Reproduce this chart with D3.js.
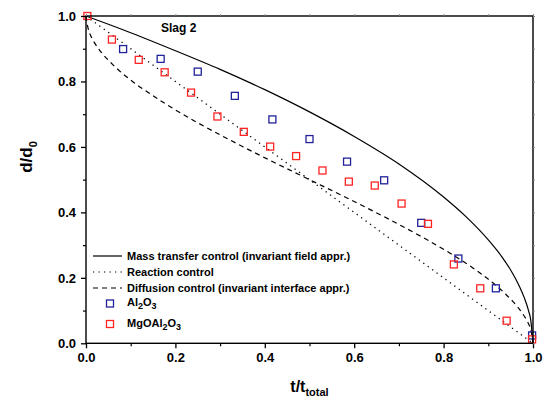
<!DOCTYPE html>
<html><head><meta charset="utf-8">
<script src="https://cdn.jsdelivr.net/npm/d3@7/dist/d3.min.js"></script>
<style>
body{margin:0;background:#fff;}
svg{display:block;font-family:"Liberation Sans",Arial,sans-serif;}
</style></head>
<body>
<svg id="c" width="545" height="403"></svg>
<script>
// ---- data ----
const al2o3T = [0.083,0.167,0.250,0.333,0.417,0.500,0.584,0.667,0.750,0.833,0.917,0.998];
const al2o3D = [0.899,0.869,0.830,0.756,0.684,0.624,0.555,0.498,0.368,0.259,0.168,0.024];
const mgoT = [0.003,0.058,0.118,0.176,0.235,0.294,0.353,0.412,0.470,0.529,0.588,0.646,0.706,0.765,0.823,0.882,0.941,0.998];
const mgoD = [1.000,0.928,0.866,0.828,0.766,0.693,0.646,0.601,0.572,0.528,0.494,0.482,0.427,0.365,0.241,0.168,0.069,0.012];
// model curves
const massT = [0,0.1,0.2,0.3,0.4,0.5,0.6,0.7,0.8,0.85,0.9,0.93,0.95,0.97,0.98,0.99,0.995,1.0];
const massD = [1,0.949,0.894,0.837,0.775,0.707,0.632,0.548,0.447,0.387,0.316,0.265,0.224,0.173,0.141,0.100,0.071,0.0];
const reactT = [0,1];
const reactD = [1,0];
const diffT = [0,0.0073,0.028,0.061,0.104,0.157,0.216,0.282,0.352,0.425,0.500,0.575,0.648,0.718,0.784,0.844,0.896,0.939,0.972,0.993,1.0];
const diffD = [1,0.95,0.90,0.85,0.80,0.75,0.70,0.65,0.60,0.55,0.50,0.45,0.40,0.35,0.30,0.25,0.20,0.15,0.10,0.05,0.0];
const xTicks = [0,0.2,0.4,0.6,0.8,1.0];
const yTicks = [0,0.2,0.4,0.6,0.8,1.0];
const minorTicks = [0.1,0.3,0.5,0.7,0.9];
const legendLines = ["Mass transfer control (invariant field appr.)","Reaction control","Diffusion control (invariant interface appr.)"];

const svg = d3.select("#c");
const L=86, R=533, T=16, B=343.3;
const x = d3.scaleLinear().domain([0,1]).range([L,R]);
const y = d3.scaleLinear().domain([0,1]).range([B,T]);
const blue = "#22229a", red = "#ff2424";

const line = d3.line().x(d=>x(d[0])).y(d=>y(d[1])).curve(d3.curveMonotoneX);
function pts(ts,ds){return ts.map((t,i)=>[t,ds[i]]);}

svg.append("path").attr("d",line(pts(massT,massD))).attr("fill","none").attr("stroke","#000").attr("stroke-width",1.2);
svg.append("path").attr("d",d3.line().x(d=>x(d[0])).y(d=>y(d[1]))(pts(reactT,reactD))).attr("fill","none").attr("stroke","#000").attr("stroke-width",1.3).attr("stroke-dasharray","1.3,4.2");
svg.append("path").attr("d",d3.line().x(d=>x(d[0])).y(d=>y(d[1])).curve(d3.curveCatmullRom)(pts(diffT,diffD))).attr("fill","none").attr("stroke","#000").attr("stroke-width",1.2).attr("stroke-dasharray","5,4");

const S=7;
function squares(ts,ds,col){
  svg.append("g").selectAll("rect").data(pts(ts,ds)).enter().append("rect")
    .attr("x",d=>x(d[0])-S/2).attr("y",d=>y(d[1])-S/2).attr("width",S).attr("height",S)
    .attr("fill","none").attr("stroke",col).attr("stroke-width",1.3);
}
squares(al2o3T,al2o3D,blue);
squares(mgoT,mgoD,red);

// frame
svg.append("rect").attr("x",L).attr("y",T).attr("width",R-L).attr("height",B-T).attr("fill","none").attr("stroke","#000").attr("stroke-width",1.4);

// axes
const xAx = svg.append("g").attr("transform",`translate(0,${B})`)
  .call(d3.axisBottom(x).tickValues(xTicks).tickFormat(d3.format(".1f")).tickSize(5).tickPadding(4));
const yAx = svg.append("g").attr("transform",`translate(${L},0)`)
  .call(d3.axisLeft(y).tickValues(yTicks).tickFormat(d3.format(".1f")).tickSize(5).tickPadding(5));
[xAx,yAx].forEach(g=>{
  g.select(".domain").remove();
  g.selectAll("line").attr("stroke","#000").attr("stroke-width",1.3);
  g.selectAll("text").attr("font-size","13px").attr("font-weight","bold").attr("fill","#000").attr("font-family","'Liberation Sans',Arial,sans-serif");
});
svg.append("g").attr("transform",`translate(0,${B})`).call(d3.axisBottom(x).tickValues(minorTicks).tickSize(3).tickFormat(""))
  .call(g=>{g.select(".domain").remove();g.selectAll("line").attr("stroke","#000").attr("stroke-width",1.2);});
svg.append("g").attr("transform",`translate(${L},0)`).call(d3.axisLeft(y).tickValues(minorTicks).tickSize(3).tickFormat(""))
  .call(g=>{g.select(".domain").remove();g.selectAll("line").attr("stroke","#000").attr("stroke-width",1.2);});
// top/right small ticks
svg.append("g").attr("transform",`translate(0,${T})`).call(d3.axisTop(x).tickValues(xTicks.concat(minorTicks)).tickSize(2).tickFormat(""))
  .call(g=>{g.select(".domain").remove();g.selectAll("line").attr("stroke","#888").attr("stroke-width",1);});
svg.append("g").attr("transform",`translate(${R},0)`).call(d3.axisRight(y).tickValues(yTicks.concat(minorTicks)).tickSize(2).tickFormat(""))
  .call(g=>{g.select(".domain").remove();g.selectAll("line").attr("stroke","#888").attr("stroke-width",1);});

// titles
const xt = svg.append("text").attr("x",(L+R)/2).attr("y",392).attr("text-anchor","middle")
  .attr("font-size","16px").attr("font-weight","bold");
xt.append("tspan").text("t/t");
xt.append("tspan").attr("font-size","11px").attr("dy",4).text("total");
const yt = svg.append("text").attr("transform","translate(32,157) rotate(-90)").attr("text-anchor","middle")
  .attr("font-size","17px").attr("font-weight","bold");
yt.append("tspan").text("d/d");
yt.append("tspan").attr("font-size","11px").attr("dy",5).text("0");

svg.append("text").attr("x",161).attr("y",32).attr("font-size","12px").attr("font-weight","bold").text("Slag 2");

// legend
const lg = svg.append("g").attr("font-size","11px").attr("font-weight","bold");
const ly = [256,272,288];
const dashes = [null,"1.3,4.2","5,4"];
legendLines.forEach((t,i)=>{
  const l = lg.append("line").attr("x1",93).attr("x2",122).attr("y1",ly[i]).attr("y2",ly[i]).attr("stroke","#000").attr("stroke-width",1.2);
  if(dashes[i]) l.attr("stroke-dasharray",dashes[i]);
  lg.append("text").attr("x",127).attr("y",ly[i]+4).text(t);
});
lg.append("rect").attr("x",110-S/2).attr("y",303.5-S/2).attr("width",S).attr("height",S).attr("fill","none").attr("stroke",blue).attr("stroke-width",1.3);
lg.append("rect").attr("x",110-S/2).attr("y",324-S/2).attr("width",S).attr("height",S).attr("fill","none").attr("stroke",red).attr("stroke-width",1.3);
function chem(yb, parts){
  const t = lg.append("text").attr("x",127).attr("y",yb);
  parts.forEach(p=>{
    if(p[1]) { t.append("tspan").attr("font-size","9px").attr("dy",3).text(p[0]); }
    else { t.append("tspan").attr("dy",p[2]||0).text(p[0]); }
  });
}
chem(306,[["Al",0],["2",1],["O",0,-3],["3",1]]);
chem(327,[["MgOAl",0],["2",1],["O",0,-3],["3",1]]);
</script>
</body></html>
